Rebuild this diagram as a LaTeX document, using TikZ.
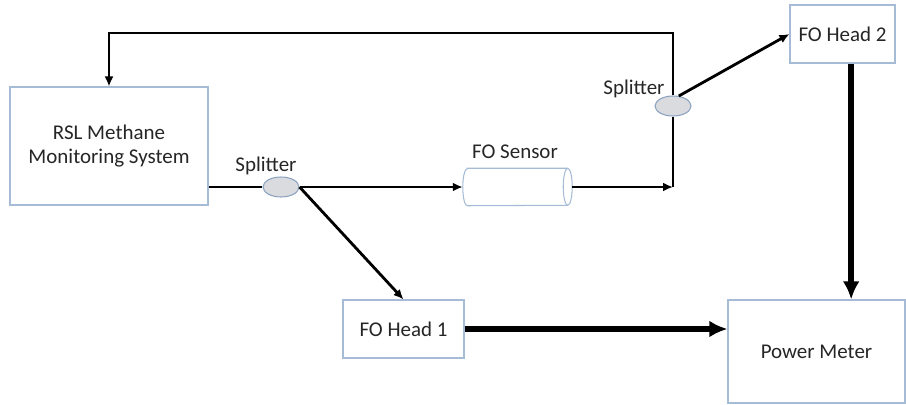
\documentclass[tikz,border=0pt]{standalone}
\usepackage{fontspec}
\setmainfont{Carlito}
\usepackage{tikz}
\usetikzlibrary{shapes,arrows.meta,positioning}

\definecolor{boxline}{RGB}{166,188,214}
\definecolor{splitfill}{RGB}{217,219,223}
\definecolor{splitline}{RGB}{138,162,192}
\definecolor{labeltext}{RGB}{38,38,38}

\begin{document}
\begin{tikzpicture}[x=0.3mm, y=-0.3mm,
	every node/.style={font=\fontsize{17.9}{21.3}\selectfont, text=labeltext},
	unit/.style={draw=boxline, line width=0.9pt, fill=white, inner sep=0pt, align=center},
	splitter/.style={ellipse, draw=splitline, fill=splitfill, line width=0.9pt, inner sep=0pt},
	sensor body/.style={draw=boxline, line width=0.9pt, fill=white},
	fibre/.style={draw=black, line width=2.4pt},
	thin arrow/.style={fibre, -{Latex[length=3mm, width=2.7mm]}},
	power arrow/.style={draw=black, line width=5pt, -{Latex[length=5.4mm, width=5mm]}}]

				\useasboundingbox (0,0) rectangle (906,404);

				\node [unit, minimum width=59.4mm, minimum height=35.4mm] (rsl)   at (109,146)   {RSL Methane\\Monitoring System};
				\node [unit, minimum width=36.3mm, minimum height=17.4mm] (head1) at (403.5,329) {FO Head 1};
				\node [unit, minimum width=31.5mm, minimum height=17.4mm] (head2) at (842.5,34)  {FO Head 2};
				\node [unit, minimum width=53.1mm, minimum height=30.9mm] (meter) at (816.5,351.5) {Power Meter};

				\node [splitter, minimum width=10.8mm, minimum height=6mm] (split1) at (281,187) {};
				\node [splitter, minimum width=10.8mm, minimum height=6mm] (split2) at (673,106) {};

				% fibre sensor: a lying cylinder, open end to the right
				\node [inner sep=0pt, minimum width=32.7mm, minimum height=11.1mm] (sensor) at (517.5,187) {};
				\filldraw [sensor body] ([xshift=1.35mm]sensor.north west) -- ([xshift=-1.35mm]sensor.north east)
					arc (90:-90:1.35mm and 5.55mm) -- ([xshift=1.35mm]sensor.south west)
					arc (270:90:1.35mm and 5.55mm) -- cycle;
				\draw [sensor body] ([xshift=-1.35mm]sensor.north east) arc (90:270:1.35mm and 5.55mm);

				\node (lbl split1) at (266,166) {Splitter};
				\node (lbl split2) at (634,89)  {Splitter};
				\node (lbl sensor) at (515,152) {FO Sensor};

				\coordinate (bend) at (split2 |- sensor.east);
				\coordinate (loop) at (673,33);

				\draw [fibre]       (rsl.east |- split1) -- (split1);
				\draw [thin arrow]  (split1) -- (sensor.west);
				\draw [thin arrow]  (split1.east) -- (head1.north);
				\draw [thin arrow]  (sensor.east) -- (bend);
				\draw [fibre]       (bend) -- (split2);
				\draw [thin arrow]  (split2) -- (loop) -| (rsl.north);
				\draw [thin arrow]  (split2.60) -- (head2.west);
				\draw [power arrow] ([xshift=2.6mm]head2.south) -- ([xshift=2.6mm]head2.south |- meter.north);
				\draw [power arrow] (head1) -- (head1 -| meter.west);

\end{tikzpicture}
\end{document}
